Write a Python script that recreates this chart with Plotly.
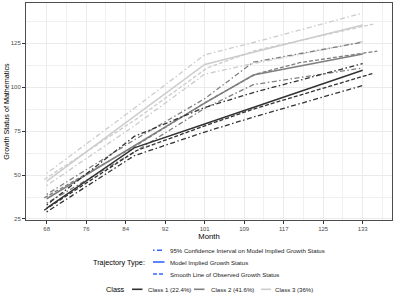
import numpy as np
import plotly.graph_objects as go

# ---------------- data ----------------
tick_labels = ["68", "76", "84", "92", "101", "109", "117", "125", "133"]
wave_months = [68, 86, 100.5, 110.5, 133]

class_names = ["Class 1 (22.4%)", "Class 2 (41.6%)", "Class 3 (36%)"]
class_colors = ["#333333", "#7F7F7F", "#CCCCCC"]

# Model implied growth status
c1_model = [31.2, 65.5, 79.1, 88.5, 109.7]
c2_model = [36.5, 66.7, 91.0, 107.0, 119.0]
c3_model = [46.5, 83.3, 113.0, 119.9, 135.5]

# 95% CI upper / lower
c1_upper = [33.0, 72.0, 88.5, 97.0, 113.5]
c1_lower = [29.0, 61.0, 74.5, 83.0, 101.0]
c2_upper = [39.0, 70.0, 93.5, 114.3, 125.7]
c2_lower = [34.0, 63.0, 88.0, 101.5, 111.0]
c3_upper = [51.0, 88.0, 118.5, 125.5, 142.3]
c3_lower = [44.0, 78.0, 107.5, 113.5, 126.0]

# Smooth line of observed growth status
c1_obs_months = [67.5, 86.5, 101, 111, 135.2]
c1_obs = [30.0, 64.0, 78.5, 88.0, 108.0]
c2_obs_months = [67.5, 86.5, 101, 111, 120, 136]
c2_obs = [37.0, 67.0, 92.0, 107.5, 114.0, 120.6]
c3_obs_months = [67.5, 86.5, 101, 111, 135.2]
c3_obs = [47.5, 82.0, 111.0, 121.0, 136.0]

traj_labels = ["95% Confidence Interval on Model Implied Growth Status",
               "Model Implied Growth Status",
               "Smooth Line of Observed Growth Status"]

# ---------------- styles ----------------
CI_DASH = "1.5px,2.5px,5px,2.5px"
OBS_DASH = "4px,2px"
LW = 1.3
FONT = "Liberation Sans, Arial, sans-serif"

fig = go.Figure()

classes = [
    (c1_model, c1_upper, c1_lower, c1_obs_months, c1_obs),
    (c2_model, c2_upper, c2_lower, c2_obs_months, c2_obs),
    (c3_model, c3_upper, c3_lower, c3_obs_months, c3_obs),
]

for i in [2, 1, 0]:
    model, upper, lower, om, obs = classes[i]
    col = class_colors[i]
    for band in (upper, lower):
        fig.add_trace(go.Scatter(x=wave_months, y=band, mode="lines",
                                 line=dict(color=col, width=LW, dash=CI_DASH),
                                 showlegend=False, hoverinfo="skip"))
    fig.add_trace(go.Scatter(x=om, y=obs, mode="lines",
                             line=dict(color=col, width=LW, dash=OBS_DASH),
                             showlegend=False, hoverinfo="skip"))
    fig.add_trace(go.Scatter(x=wave_months, y=model, mode="lines",
                             line=dict(color=col, width=LW + 0.2),
                             showlegend=False, name=class_names[i]))

# ---------------- axes ----------------
xt = list(np.linspace(68, 133, len(tick_labels)))
xminor = [(a + b) / 2 for a, b in zip(xt[:-1], xt[1:])]
xminor = [xt[0] - (xt[1] - xt[0]) / 2] + xminor + [xt[-1] + (xt[1] - xt[0]) / 2]
yt = [25, 50, 75, 100, 125]
yminor = [37.5, 62.5, 87.5, 112.5, 137.5]

axis_common = dict(showline=True, mirror=True, linecolor="#4D4D4D", linewidth=1,
                   ticks="outside", ticklen=3, tickcolor="#333333", tickwidth=0.8,
                   showgrid=True, gridcolor="#EBEBEB", gridwidth=0.9,
                   zeroline=False,
                   tickfont=dict(family=FONT, size=6, color="#4D4D4D"))

fig.update_xaxes(range=[63.74, 139.03], tickmode="array", tickvals=xt,
                 ticktext=tick_labels,
                 minor=dict(tickvals=xminor, showgrid=True, gridcolor="#F0F0F0",
                            gridwidth=0.5, ticks=""),
                 title=dict(text="Month", font=dict(family=FONT, size=7.7, color="#000"),
                            standoff=2),
                 **axis_common)
fig.update_yaxes(range=[24.4, 148], tickmode="array", tickvals=yt,
                 ticktext=[str(v) for v in yt],
                 minor=dict(tickvals=yminor, showgrid=True, gridcolor="#F0F0F0",
                            gridwidth=0.5, ticks=""),
                 title=dict(text="Growth Status of Mathematics",
                            font=dict(family=FONT, size=7.2, color="#000"), standoff=0),
                 **axis_common)

# ---------------- legend (drawn as annotations/keys) ----------------
L, R, T, B = 26, 392, 3, 220
def px_x(p):
    return (p - L) / (R - L)
def px_y(p):
    return (B - p) / (B - T)

shapes = []
annotations = []
LEG_BLUE = "#3366FF"
traj_dash = [CI_DASH, "solid", OBS_DASH]
traj_rows = [250.3, 262, 274]

annotations.append(dict(text="Trajectory Type:", xref="paper", yref="paper",
                        x=px_x(147), y=px_y(262), xanchor="right", yanchor="middle",
                        showarrow=False, font=dict(family=FONT, size=7.3, color="#000")))
for lab, d, yy in zip(traj_labels, traj_dash, traj_rows):
    shapes.append(dict(type="line", xref="paper", yref="paper",
                       x0=px_x(153), x1=px_x(164.5), y0=px_y(yy), y1=px_y(yy),
                       line=dict(color=LEG_BLUE, width=1.6, dash=d)))
    annotations.append(dict(text=lab, xref="paper", yref="paper",
                            x=px_x(167.5), y=px_y(yy), xanchor="left", yanchor="middle",
                            showarrow=False, font=dict(family=FONT, size=6.1, color="#1a1a1a")))

annotations.append(dict(text="Class", xref="paper", yref="paper",
                        x=px_x(126.5), y=px_y(289.3), xanchor="right", yanchor="middle",
                        showarrow=False, font=dict(family=FONT, size=7.3, color="#000")))
class_key_x = [(132, 142.5, 145.5), (194, 204.5, 208.5), (261, 271, 272.5)]
for name, col, (k0, k1, tx) in zip(class_names, class_colors, class_key_x):
    shapes.append(dict(type="line", xref="paper", yref="paper",
                       x0=px_x(k0), x1=px_x(k1), y0=px_y(289.3), y1=px_y(289.3),
                       line=dict(color=col, width=1.6)))
    annotations.append(dict(text=name, xref="paper", yref="paper",
                            x=px_x(tx), y=px_y(289.3), xanchor="left", yanchor="middle",
                            showarrow=False, font=dict(family=FONT, size=6.1, color="#1a1a1a")))

fig.update_layout(width=397, height=297,
                  margin=dict(l=L, r=397 - R, t=T, b=297 - B, autoexpand=False),
                  plot_bgcolor="white", paper_bgcolor="white",
                  showlegend=False, shapes=shapes, annotations=annotations,
                  font=dict(family=FONT))

fig.write_html("out.html", config={"displayModeBar": False},
               post_script="document.body.style.margin='0';document.body.style.overflow='hidden';")
